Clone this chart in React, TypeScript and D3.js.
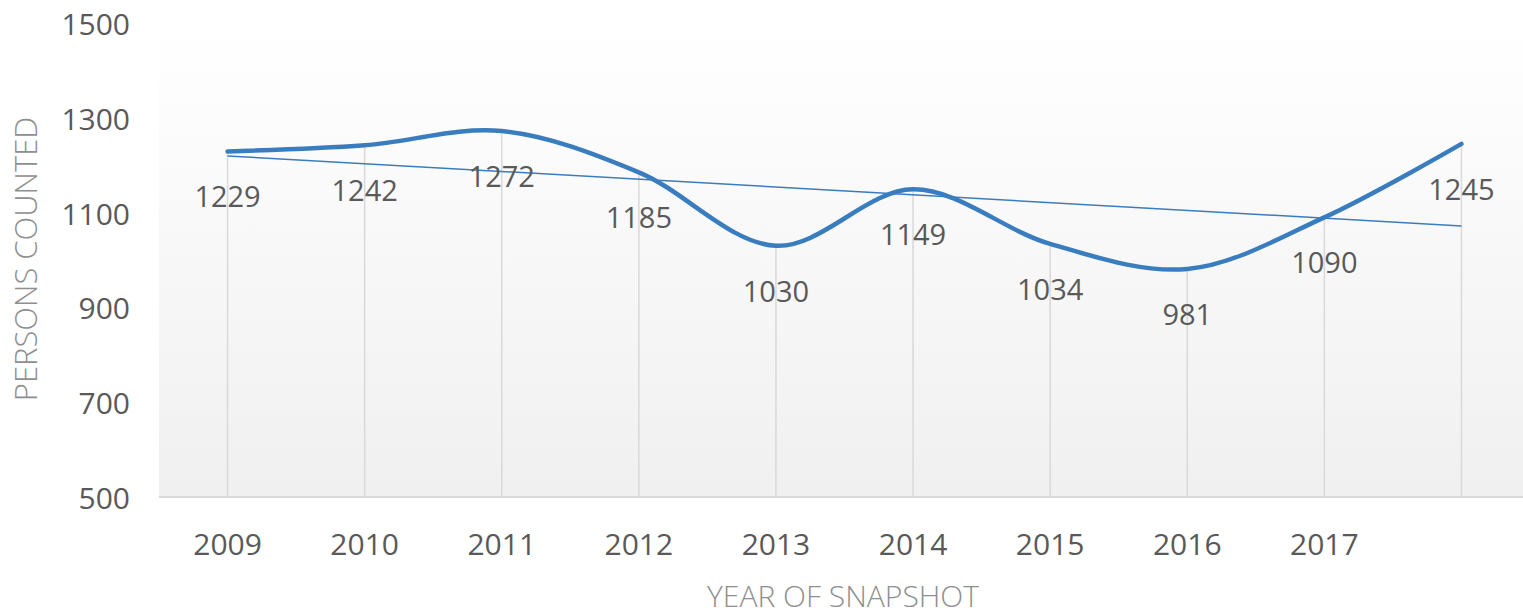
import React from "react";
import * as d3 from "d3";

const years = ["2009", "2010", "2011", "2012", "2013", "2014", "2015", "2016", "2017", ""];
const counts = [1229, 1242, 1272, 1185, 1030, 1149, 1034, 981, 1090, 1245];
const yTicks = [500, 700, 900, 1100, 1300, 1500];

const W = 1523;
const H = 616;
const left = 159;
const step = 137.1;
const top = 23;
const bottom = 497;

export default function App() {
  const x = d3
    .scaleBand<number>()
    .domain(d3.range(years.length))
    .range([left, left + step * years.length])
    .paddingInner(0)
    .paddingOuter(0);
  const cx = (i: number) => (x(i) as number) + x.bandwidth() / 2;
  const y = d3.scaleLinear().domain([500, 1500]).range([bottom, top]);

  const pts: [number, number][] = counts.map((v, i) => [cx(i), y(v)]);
  const line = d3.line().curve(d3.curveCatmullRom.alpha(0.5))(pts) || "";

  // linear trend
  const n = counts.length;
  const mx = d3.mean(d3.range(n)) as number;
  const my = d3.mean(counts) as number;
  let sxy = 0, sxx = 0;
  counts.forEach((v, i) => {
    sxy += (i - mx) * (v - my);
    sxx += (i - mx) * (i - mx);
  });
  const slope = sxy / sxx;
  const icpt = my - slope * mx;
  const trend = d3.line()([
    [cx(0), y(icpt)],
    [cx(n - 1), y(icpt + slope * (n - 1))],
  ]) || "";

  const font = "'Open Sans', sans-serif";
  return (
    <svg width={W} height={H} style={{ position: "absolute", left: 0, top: 0 }}>
      <defs>
        <linearGradient id="bg" x1="0" y1="0" x2="0" y2="1">
          <stop offset="0" stopColor="#ffffff" />
          <stop offset="1" stopColor="#f0f0f0" />
        </linearGradient>
      </defs>
      <rect x={left} y={top} width={W - left} height={bottom - top} fill="url(#bg)" />
      {counts.map((v, i) => (
        <line key={"d" + i} x1={cx(i)} x2={cx(i)} y1={y(v)} y2={bottom} stroke="#d9d9d9" strokeWidth={1.5} />
      ))}
      <line x1={left} x2={W} y1={bottom} y2={bottom} stroke="#d9d9d9" strokeWidth={2} />
      {yTicks.map((t) => (
        <text key={t} x={130} y={y(t) + 12} textAnchor="end" fontFamily={font} fontSize={30} fill="#595959">
          {t}
        </text>
      ))}
      {years.map((yr, i) => (
        <text key={"x" + i} x={cx(i)} y={555} textAnchor="middle" fontFamily={font} fontSize={30} fill="#595959">
          {yr}
        </text>
      ))}
      <path d={trend} fill="none" stroke="#3a7dbf" strokeWidth={1.5} />
      <path d={line} fill="none" stroke="#3a7dbf" strokeWidth={4.5} strokeLinecap="round" />
      {counts.map((v, i) => (
        <text key={"l" + i} x={cx(i)} y={y(v) + 56} textAnchor="middle" fontFamily={font} fontSize={29} fill="#595959">
          {v}
        </text>
      ))}
      <text
        transform={`translate(37,259) rotate(-90)`}
        textAnchor="middle"
        fontFamily={font}
        fontWeight={300}
        fontSize={31}
        fill="#8f8f8f"
      >
        PERSONS COUNTED
      </text>
      <text x={843} y={607} textAnchor="middle" fontFamily={font} fontWeight={300} fontSize={30} fill="#8f8f8f">
        YEAR OF SNAPSHOT
      </text>
    </svg>
  );
}
